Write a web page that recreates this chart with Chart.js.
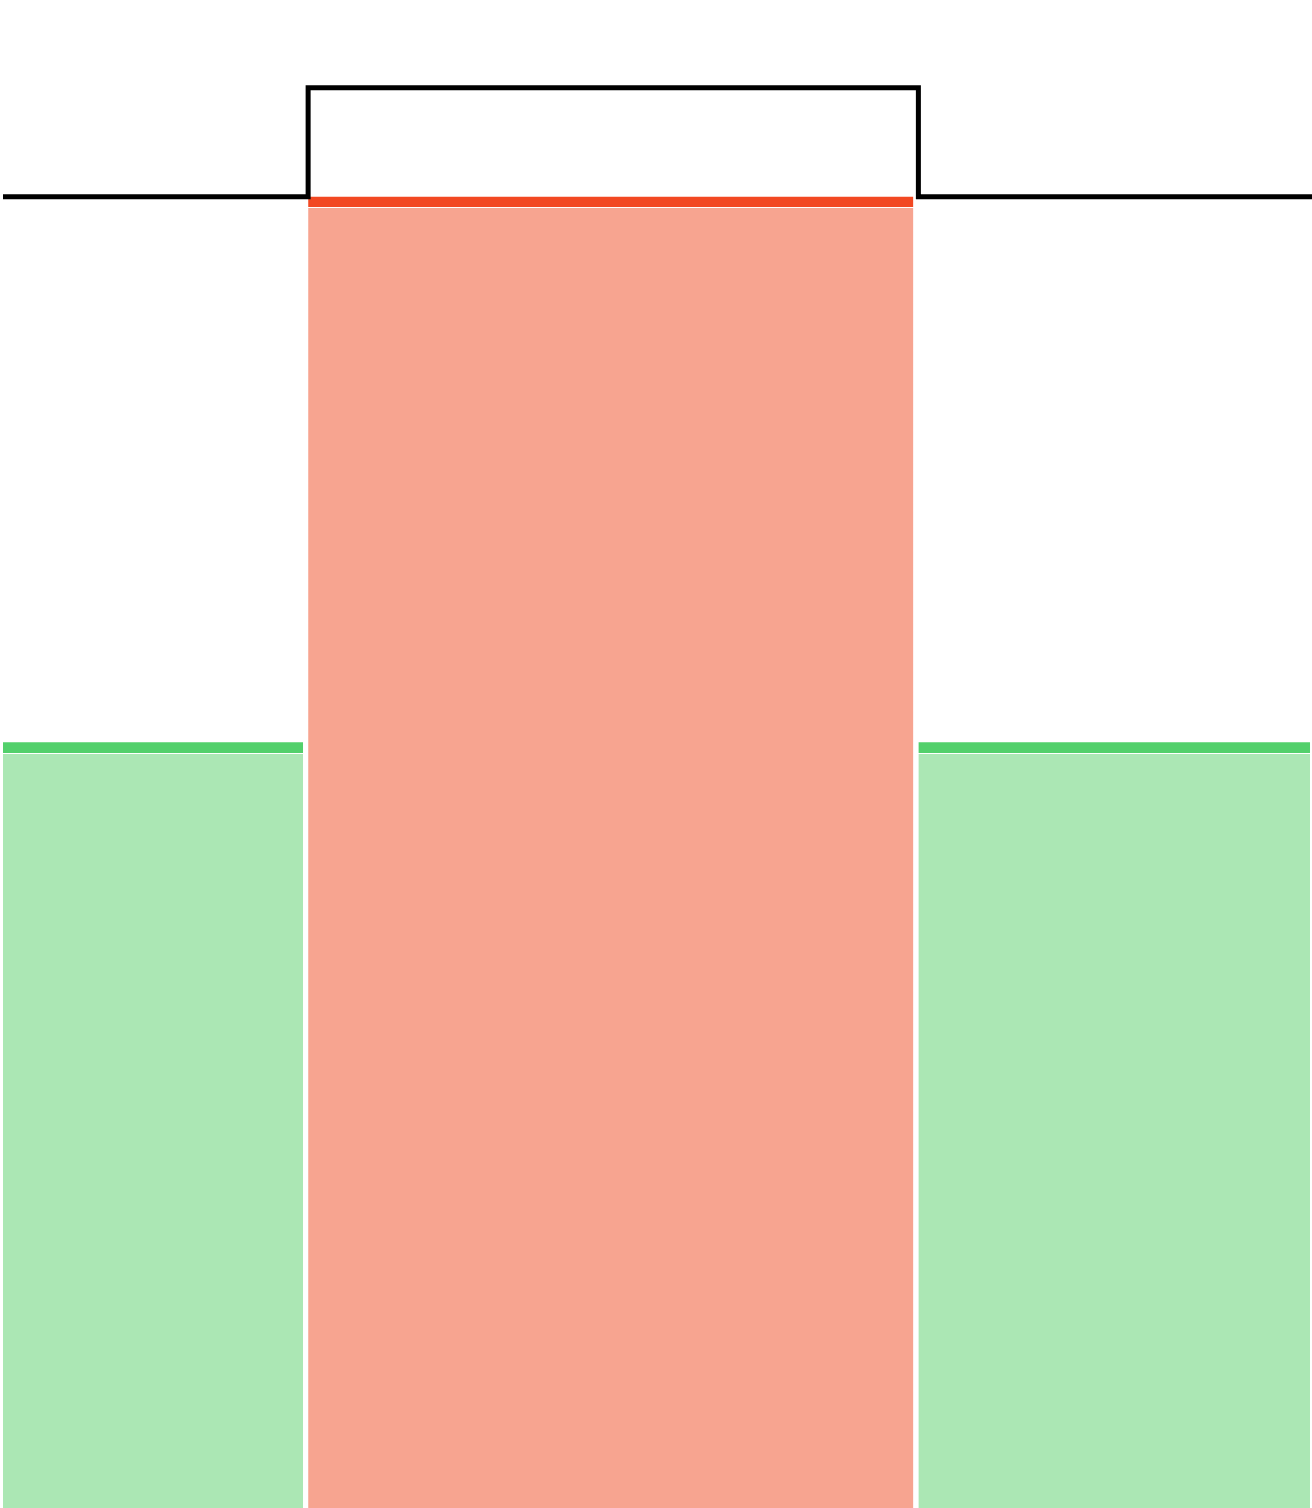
<!DOCTYPE html>
<html>
<head>
<meta charset="utf-8">
<script src="https://cdn.jsdelivr.net/npm/chart.js@4.4.1/dist/chart.umd.min.js"></script>
<style>
  html, body { margin: 0; padding: 0; background: #ffffff; }
  #wrap { width: 1312px; height: 1508px; position: relative; }
</style>
</head>
<body>
<div id="wrap"><canvas id="c"></canvas></div>
<script>
// ---- data ----
const categories = ['A', 'B', 'C'];
const slotWidths = [1, 2, 1.3];          // relative column widths
const barValues = [58.4, 100, 58.4];     // column heights
const targetValues = [100, 108.3, 100];  // step line levels per column
const barStatus = ['ok', 'over', 'ok'];

const palette = {
  ok:   { top: '#52D06B', fill: '#ABE7B4' },
  over: { top: '#F24822', fill: '#F7A490' }
};

const X_MIN = 0, X_MAX = 4.29, Y_MIN = 0, Y_MAX = 115;
const PAD_LEFT = 3;
const GAP_PX = 5;
const pxPerUnit = (1312 - PAD_LEFT) / (X_MAX - X_MIN);
const gapUnits = GAP_PX / pxPerUnit;

// slot edges from widths
const edges = [0];
slotWidths.forEach((w, i) => edges.push(edges[i] + w));

function makeFill(status, value) {
  return function (ctx) {
    const chart = ctx.chart;
    const c = palette[status];
    if (!chart.chartArea) return c.fill;
    const y0 = chart.scales.y.getPixelForValue(value);
    const g = chart.ctx.createLinearGradient(0, y0, 0, y0 + 12);
    const a = 10.7 / 12, b = 11.7 / 12;
    g.addColorStop(0, c.top);
    g.addColorStop(a, c.top);
    g.addColorStop(a, '#ffffff');
    g.addColorStop(b, '#ffffff');
    g.addColorStop(b, c.fill);
    g.addColorStop(1, c.fill);
    return g;
  };
}

const datasets = [];

// step target line (drawn on top)
const stepData = targetValues.map((v, i) => ({ x: edges[i], y: v }));
stepData.push({ x: edges[edges.length - 1], y: targetValues[targetValues.length - 1] });
datasets.push({
  type: 'line',
  label: 'target',
  data: stepData,
  stepped: 'before',
  borderColor: '#000000',
  borderWidth: 5,
  borderJoinStyle: 'miter',
  pointRadius: 0,
  fill: false,
  order: 0
});

categories.forEach((cat, i) => {
  datasets.push({
    type: 'line',
    label: cat,
    data: [
      { x: edges[i], y: barValues[i] },
      { x: edges[i + 1] - gapUnits, y: barValues[i] }
    ],
    borderColor: 'rgba(0,0,0,0)',
    borderWidth: 0,
    pointRadius: 0,
    fill: 'origin',
    backgroundColor: makeFill(barStatus[i], barValues[i]),
    order: 1
  });
});

new Chart(document.getElementById('c'), {
  type: 'line',
  data: { datasets },
  options: {
    responsive: true,
    maintainAspectRatio: false,
    animation: false,
    layout: { padding: { left: PAD_LEFT, right: 0, top: 0, bottom: 0 } },
    plugins: { legend: { display: false }, tooltip: { enabled: false } },
    scales: {
      x: { type: 'linear', min: X_MIN, max: X_MAX, display: false },
      y: { type: 'linear', min: Y_MIN, max: Y_MAX, display: false }
    }
  }
});
</script>
</body>
</html>
